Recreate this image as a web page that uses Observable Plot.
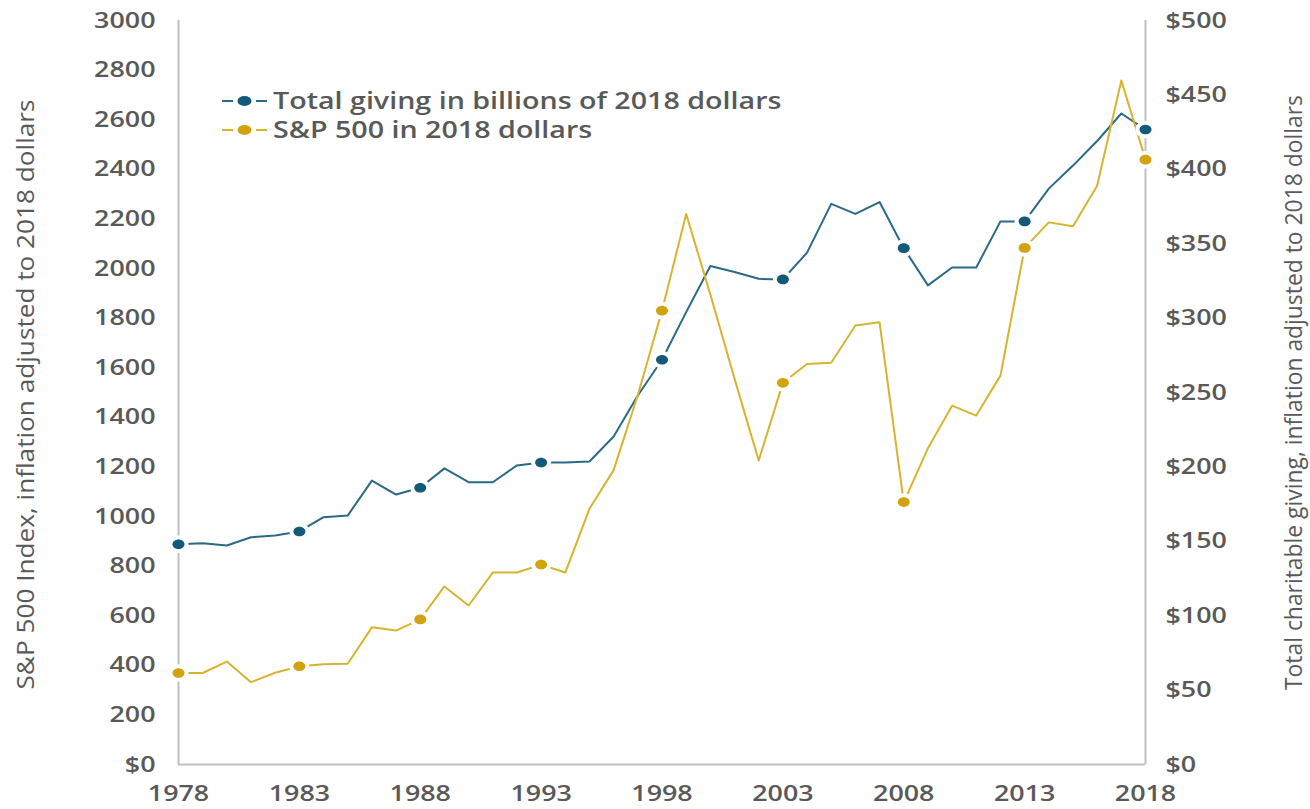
<!DOCTYPE html>
<html><head><meta charset="utf-8">
<script src="https://cdn.jsdelivr.net/npm/d3@7"></script>
<script src="https://cdn.jsdelivr.net/npm/@observablehq/plot@0.6"></script>
<style>
body{margin:0;background:#fff;}
#wrap{position:relative;width:1310px;height:809px;}
#legend{position:absolute;left:221px;top:86px;font-family:"Open Sans";font-weight:600;font-size:23px;color:#595959;line-height:29px;}
#legend .row{display:flex;align-items:center;height:29px;white-space:nowrap;}
#legend svg{margin-right:4px;}
#legend span{display:inline-block;transform:scaleX(1.245);transform-origin:left center;}
</style></head><body><div id="wrap"><div id="legend"></div></div>
<script>
const years = [1978,1979,1980,1981,1982,1983,1984,1985,1986,1987,1988,1989,1990,1991,1992,1993,1994,1995,1996,1997,1998,1999,2000,2001,2002,2003,2004,2005,2006,2007,2008,2009,2010,2011,2012,2013,2014,2015,2016,2017,2018];
// Total giving, billions of 2018 dollars (right axis)
const giving = [148,148.7,147.2,152.7,153.9,156.6,166.2,167.3,190.8,181.4,186,199,189.7,189.7,201,203,203,203.6,220.4,248,272,304,335,331,326.4,326,344,376.8,370,378,347,322,334,334,365,365,387,402.5,419,437.5,426.7];
// S&P 500 index in 2018 dollars (left axis)
const sp500 = [369,369,415,332,370,396,404,406,553,540,585,718,641,774,774,806,774,1031,1187,1490,1830,2220,1895,1556,1226,1539,1615,1620,1770,1783,1058,1275,1447,1407,1568,2083,2186,2170,2334,2758,2439];
const markerYears = [1978,1983,1988,1993,1998,2003,2008,2013,2018];
const xTicks = [1978,1983,1988,1993,1998,2003,2008,2013,2018];
const leftTicks = [0,200,400,600,800,1000,1200,1400,1600,1800,2000,2200,2400,2600,2800,3000];
const rightTicks = [0,50,100,150,200,250,300,350,400,450,500];
const seriesNames = ["Total giving in billions of 2018 dollars","S&P 500 in 2018 dollars"];
const leftTitle = "S&P 500 Index, inflation adjusted to 2018 dollars";
const rightTitle = "Total charitable giving, inflation adjusted to 2018 dollars";

const ratio = 3000/500; // right-axis dollars -> left-axis units
const tealLine = "#2b6a86", tealDot = "#135a7a";
const goldLine = "#d7b42e", goldDot = "#d2a30e";
const axisGray = "#c0c0c0", textGray = "#595959";
const S = 1.22; // horizontal stretch of the reference's lettering

const rows = years.map((y,i)=>({year:y, giving:giving[i], g:giving[i]*ratio, sp:sp500[i]}));
const marked = rows.filter(d=>markerYears.includes(d.year));

const ellipse = {draw(ctx){const rx=6,ry=4.8,k=0.5523;
  ctx.moveTo(rx,0);
  ctx.bezierCurveTo(rx,ry*k,rx*k,ry,0,ry);
  ctx.bezierCurveTo(-rx*k,ry,-rx,ry*k,-rx,0);
  ctx.bezierCurveTo(-rx,-ry*k,-rx*k,-ry,0,-ry);
  ctx.bezierCurveTo(rx*k,-ry,rx,-ry*k,rx,0);
  ctx.closePath();}};

const chart = Plot.plot({
  width:1310, height:809,
  marginTop:20, marginBottom:45, marginLeft:178, marginRight:165,
  x:{domain:[1978,2018]},
  y:{domain:[0,3000]},
  style:{fontFamily:"Open Sans", fontWeight:600, fontSize:"22px", color:textGray, background:"white"},
  marks:[
    Plot.ruleX([1978,2018],{y1:0,y2:3000,stroke:axisGray,strokeWidth:2}),
    Plot.ruleY([0],{stroke:axisGray,strokeWidth:2}),
    Plot.axisY({anchor:"left", ticks:leftTicks, tickSize:0, tickPadding:23, tickFormat:d=>d===0?"$0":String(d), label:null}),
    Plot.axisY({anchor:"right", ticks:rightTicks.map(v=>v*ratio), tickSize:0, tickPadding:20, tickFormat:d=>"$"+Math.round(d/ratio), label:null}),
    Plot.axisX({ticks:xTicks, tickSize:0, tickPadding:21, tickFormat:d=>String(d), label:null}),
    Plot.line(rows,{x:"year",y:"g",stroke:tealLine,strokeWidth:2}),
    Plot.line(rows,{x:"year",y:"sp",stroke:goldLine,strokeWidth:2}),
    Plot.dot(marked,{x:"year",y:"g",symbol:ellipse,fill:tealDot,stroke:"white",strokeWidth:8,paintOrder:"stroke"}),
    Plot.dot(marked,{x:"year",y:"sp",symbol:ellipse,fill:goldDot,stroke:"white",strokeWidth:8,paintOrder:"stroke"}),
    Plot.text([leftTitle],{frameAnchor:"left",textAnchor:"middle",rotate:-90,dx:-152,dy:2,fontFamily:"Open Sans",fontWeight:400,fontSize:23,fill:textGray}),
    Plot.text([rightTitle],{frameAnchor:"right",textAnchor:"middle",rotate:-90,dx:149,dy:0,fontFamily:"Open Sans",fontWeight:400,fontSize:23,fill:textGray})
  ]
});
document.getElementById("wrap").prepend(chart);

// stretch lettering horizontally like the reference; condense the rotated titles
chart.querySelectorAll("text").forEach(t=>{
  const s = t.textContent;
  const len = t.getComputedTextLength();
  if (!len) return;
  if (s === leftTitle) t.setAttribute("textLength", 590);
  else if (s === rightTitle) t.setAttribute("textLength", 595);
  else t.setAttribute("textLength", len*S);
  t.setAttribute("lengthAdjust","spacingAndGlyphs");
});

const legend = document.getElementById("legend");
[[tealLine,tealDot],[goldLine,goldDot]].forEach(([lc,dc],i)=>{
  const row = document.createElement("div"); row.className="row";
  row.innerHTML = `<svg width="48" height="20"><line x1="1" x2="12" y1="10" y2="10" stroke="${lc}" stroke-width="2"/><ellipse cx="23.5" cy="10" rx="7" ry="5" fill="${dc}"/><line x1="35" x2="46" y1="10" y2="10" stroke="${lc}" stroke-width="2"/></svg><span>${seriesNames[i]}</span>`;
  legend.appendChild(row);
});
</script>
</body></html>
